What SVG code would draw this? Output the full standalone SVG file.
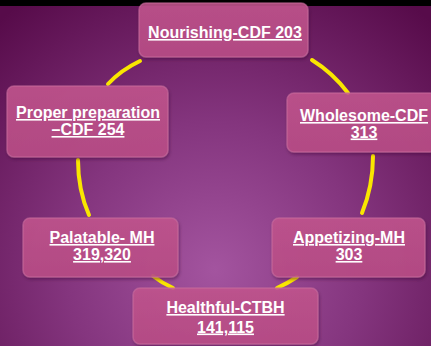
<svg xmlns="http://www.w3.org/2000/svg" width="431" height="346" viewBox="0 0 431 346">
  <defs>
    <radialGradient id="bg" cx="215" cy="270" r="330" gradientUnits="userSpaceOnUse">
      <stop offset="0" stop-color="#a3549f"/>
      <stop offset="0.45" stop-color="#84357e"/>
      <stop offset="1" stop-color="#570b4a"/>
    </radialGradient>
    <linearGradient id="boxFill" x1="0" y1="0" x2="0" y2="1">
      <stop offset="0" stop-color="#c4568f"/>
      <stop offset="1" stop-color="#bc4e88"/>
    </linearGradient>
    <filter id="shadow" x="-10%" y="-20%" width="120%" height="150%">
      <feDropShadow dx="1" dy="2" stdDeviation="1.5" flood-color="#3a0530" flood-opacity="0.5"/>
    </filter>
  </defs>
  <style>
    .box { fill: url(#boxFill); fill-opacity: 0.86; stroke: #c96c9e; stroke-opacity: 0.6; stroke-width: 1.5; filter: url(#shadow); }
    .label { font-family: "Liberation Sans", Arial, sans-serif; font-size: 16px; font-weight: bold; fill: #ffffff; text-anchor: middle; text-decoration: underline; }
    .arc { fill: none; stroke: #f9e600; stroke-width: 4; stroke-linecap: round; }
  </style>

  <!-- backdrop -->
  <rect x="0" y="0" width="431" height="346" fill="url(#bg)"/>
  <rect x="0" y="0" width="431" height="6" fill="#000000"/>

  <!-- cycle connectors -->
  <g id="connectors">
    <path class="arc" d="M312,60 Q333,73 348,93"/>
    <path class="arc" d="M373,156 Q373,186 362,213"/>
    <path class="arc" d="M297,277 Q288,283 277,288"/>
    <path class="arc" d="M173,288 Q162,283 153,276"/>
    <path class="arc" d="M89,215 Q78,190 78,160"/>
    <path class="arc" d="M108,84 Q121,70 140,61"/>
  </g>

  <g id="node-nourishing">
    <rect class="box" x="139" y="3" width="169" height="54" rx="7"/>
    <text class="label" x="225" y="38">Nourishing-CDF 203</text>
  </g>

  <g id="node-wholesome">
    <rect class="box" x="287" y="93" width="150" height="59" rx="7"/>
    <text class="label" x="364" y="121">Wholesome-CDF</text>
    <text class="label" x="364" y="137.5">313</text>
  </g>

  <g id="node-appetizing">
    <rect class="box" x="272" y="218" width="153" height="59" rx="7"/>
    <text class="label" x="349" y="243">Appetizing-MH</text>
    <text class="label" x="349" y="260">303</text>
  </g>

  <g id="node-healthful">
    <rect class="box" x="133" y="288" width="185" height="56" rx="7"/>
    <text class="label" x="225.5" y="313">Healthful-CTBH</text>
    <text class="label" x="225.5" y="332.5">141,115</text>
  </g>

  <g id="node-palatable">
    <rect class="box" x="23" y="218" width="155" height="59" rx="7"/>
    <text class="label" x="102" y="243">Palatable- MH</text>
    <text class="label" x="102" y="260">319,320</text>
  </g>

  <g id="node-proper-preparation">
    <rect class="box" x="7" y="86" width="161" height="71" rx="7"/>
    <text class="label" x="88" y="118">Proper preparation</text>
    <text class="label" x="88" y="135">–CDF 254</text>
  </g>
</svg>
